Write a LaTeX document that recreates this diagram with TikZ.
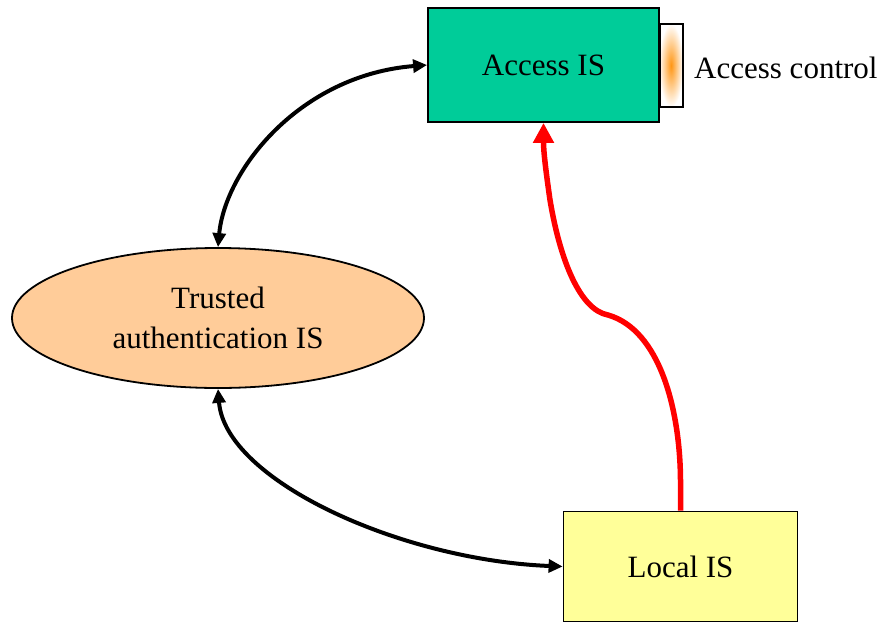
\documentclass[tikz,border=0pt]{standalone}
\usepackage{fontspec}
\setmainfont{Liberation Serif}
\usetikzlibrary{shapes.geometric,arrows.meta}
\definecolor{teal1}{RGB}{0,204,153}
\definecolor{peach}{RGB}{255,204,153}
\definecolor{paleyellow}{RGB}{255,255,153}
\definecolor{orangec}{RGB}{255,150,20}
\tikzset{
  box/.style={draw=black, line width=1.8pt, inner sep=0pt, font=\fontsize{31}{40}\selectfont},
  conn/.style={line width=4pt, {Triangle[length=14pt,width=13pt]}-{Triangle[length=14pt,width=13pt]}},
  redconn/.style={draw=red, line width=5.5pt, -{Triangle[length=20pt,width=20pt]}},
}
\begin{document}
\begin{tikzpicture}[x=1pt,y=-1pt]
\useasboundingbox (0,0) rectangle (889,630);
\node[box, fill=teal1, minimum width=231pt, minimum height=114pt] (acc) at (543.5,65) {Access IS};
\node[box, fill=paleyellow, minimum width=234pt, minimum height=110pt] (loc) at (680.5,566.5) {Local IS};
\node[box, ellipse, fill=peach, minimum width=412pt, minimum height=140pt, align=center] (trust) at (218,318) {Trusted\\authentication IS};
% access control bar
\shade[inner color=orangec, outer color=white] (659,24) rectangle (683,107);
\draw[line width=1.4pt] (660,24) rectangle (683,107);
\node[anchor=base west, inner sep=0pt, font=\fontsize{31}{40}\selectfont] (actl) at (694,78) {Access control};
% connectors
\draw[conn] (trust.north) .. controls (225,170) and (300,75) .. (acc.west);
\draw[conn] (trust.south) .. controls (225,480) and (400,560) .. (loc.west);
\draw[redconn] (loc.north) -- (680.5,480) .. controls (680,410) and (660,330) .. (608,315)
  .. controls (580,310) and (560,260) .. (550,200) .. controls (545,165) and (543.5,150) .. (acc.south);
\end{tikzpicture}
\end{document}
